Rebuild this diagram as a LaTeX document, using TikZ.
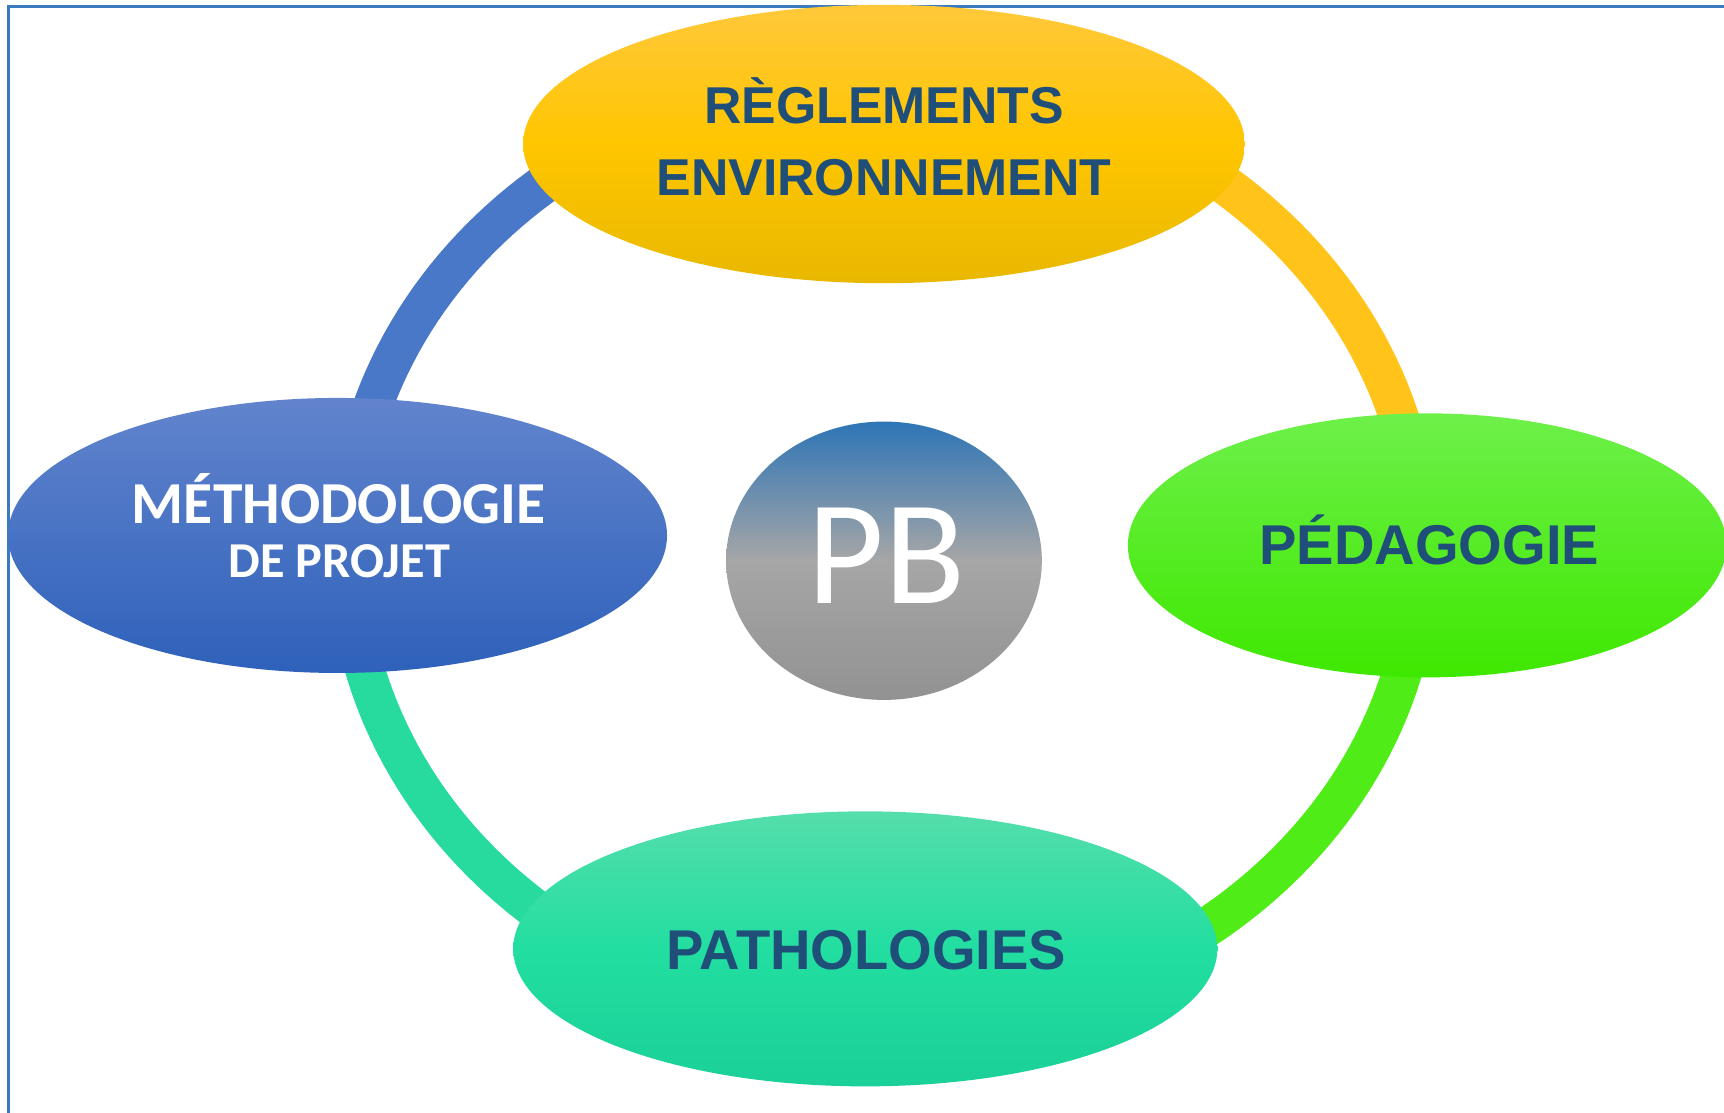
\documentclass[tikz,border=0pt]{standalone}
\usepackage{fontspec}
\setmainfont{Liberation Sans}
\newfontfamily\calib{Carlito}
\usetikzlibrary{shapes.geometric}

\definecolor{txtblue}{HTML}{1F4E79}
\definecolor{frameblue}{HTML}{3A7BBF}
\definecolor{ringblue}{HTML}{4A78C9}
\definecolor{ringyel}{HTML}{FFC31A}
\definecolor{ringgreen}{HTML}{4FEC18}
\definecolor{ringteal}{HTML}{27DA9E}

\begin{document}
\begin{tikzpicture}[x=0.01cm, y=-0.01cm,
    bubble/.style={ellipse, inner sep=0pt},
    ring/.style={line width=0.36cm},
    word/.style={anchor=base, inner sep=0pt},
    darktxt/.style={word, text=txtblue, font=\bfseries\fontsize{14.5}{18}\selectfont}]
            \clip (0,0) rectangle (1568,1012);
            \draw[frameblue, line width=0.027cm] (7.5,1020) -- (7.5,5.5) -- (1580,5.5);
            % ring behind the bubbles
            \draw[ring, ringblue] plot[domain=90:180, samples=60] ({804+488*cos(\x)}, {500-430*sin(\x)});
            \draw[ring, ringyel] plot[domain=0:90, samples=60] ({804+488*cos(\x)}, {500-430*sin(\x)});
            \draw[ring, ringgreen] plot[domain=270:360, samples=60] ({804+488*cos(\x)}, {500-430*sin(\x)});
            \draw[ring, ringteal] plot[domain=180:270, samples=60] ({804+488*cos(\x)}, {500-430*sin(\x)});
            % bubbles
            \node[bubble, top color={rgb,255:red,255;green,200;blue,58}, bottom color={rgb,255:red,232;green,184;blue,0}, middle color={rgb,255:red,255;green,198;blue,0}, minimum width=6.56cm, minimum height=2.53cm] (regl) at (804,131) {};
            \node[bubble, top color={rgb,255:red,98;green,132;blue,205}, bottom color={rgb,255:red,46;green,97;blue,186}, minimum width=5.99cm, minimum height=2.50cm] (meth) at (307,487) {};
            \node[bubble, top color={rgb,255:red,110;green,240;blue,74}, bottom color={rgb,255:red,62;green,232;blue,0}, minimum width=5.44cm, minimum height=2.40cm] (peda) at (1298,496) {};
            \node[bubble, top color={rgb,255:red,85;green,222;blue,172}, bottom color={rgb,255:red,26;green,208;blue,152}, middle color={rgb,255:red,34;green,222;blue,160}, minimum width=6.40cm, minimum height=2.50cm] (patho) at (787,863) {};
            \node[bubble, top color={rgb,255:red,46;green,117;blue,182}, bottom color={rgb,255:red,146;green,146;blue,146}, middle color={rgb,255:red,166;green,166;blue,166}, minimum width=2.87cm, minimum height=2.53cm] (pb) at (804,510) {};
            % texts, placed on their baselines
            \node[darktxt, font=\bfseries\fontsize{13.4}{16}\selectfont] (regla) at (804,112) {RÈGLEMENTS};
            \node[darktxt, font=\bfseries\fontsize{13.4}{16}\selectfont] (reglb) at (804,178) {ENVIRONNEMENT};
            \node[word, text=white, font=\calib\bfseries\fontsize{15.4}{17}\selectfont] (metha) at (308,476) {MÉTHODOLOGIE};
            \node[word, text=white, font=\calib\bfseries\fontsize{13}{15}\selectfont] (methb) at (308.5,525) {DE PROJET};
            \node[darktxt] (pedat) at (1300,513) {PÉDAGOGIE};
            \node[darktxt] (pathot) at (788,882) {PATHOLOGIES};
            \node[word, text=white, font=\calib\fontsize{38.5}{40}\selectfont] (pbt) at (806,549) {PB};
        \end{tikzpicture}
\end{document}
